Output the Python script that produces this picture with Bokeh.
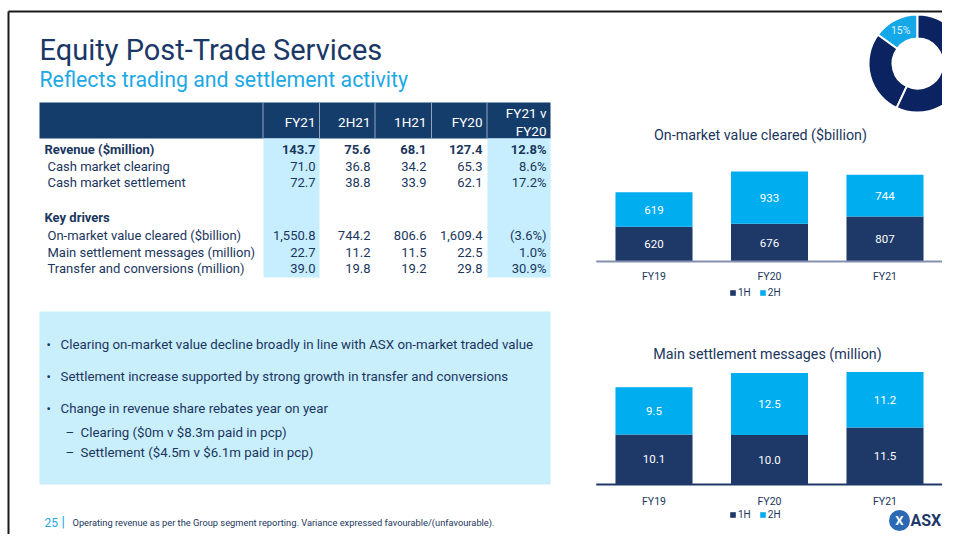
import math
from bokeh.plotting import figure
from bokeh.models import Range1d, Legend, LegendItem, ColumnDataSource
from bokeh.core.properties import value
from bokeh.embed import file_html
from bokeh.resources import INLINE

# ---------------- data ----------------
title_text = "Equity Post-Trade Services"
subtitle_text = "Reflects trading and settlement activity"
table_columns = ["FY21", "2H21", "1H21", "FY20"]
variance_header = ["FY21 v", "FY20"]
row_labels = ["Revenue ($million)", "Cash market clearing", "Cash market settlement",
              "Key drivers", "On-market value cleared ($billion)",
              "Main settlement messages (million)", "Transfer and conversions (million)"]
fy21_vals = [143.7, 71.0, 72.7, None, 1550.8, 22.7, 39.0]
h2_21_vals = [75.6, 36.8, 38.8, None, 744.2, 11.2, 19.8]
h1_21_vals = [68.1, 34.2, 33.9, None, 806.6, 11.5, 19.2]
fy20_vals = [127.4, 65.3, 62.1, None, 1609.4, 22.5, 29.8]
variance_pct = [12.8, 8.6, 17.2, None, -3.6, 1.0, 30.9]
bullet_points = ["Clearing on-market value decline broadly in line with ASX on-market traded value",
                 "Settlement increase supported by strong growth in transfer and conversions",
                 "Change in revenue share rebates year on year"]
sub_points = ["Clearing ($0m v $8.3m paid in pcp)",
              "Settlement ($4.5m v $6.1m paid in pcp)"]
footnote_page = "25"
footnote_text = "Operating revenue as per the Group segment reporting. Variance expressed favourable/(unfavourable)."

chart1_title = "On-market value cleared ($billion)"
chart2_title = "Main settlement messages (million)"
years = ["FY19", "FY20", "FY21"]
series_names = ["1H", "2H"]
cleared_1h = [620, 676, 807]
cleared_2h = [619, 933, 744]
messages_1h = [10.1, 10.0, 11.5]
messages_2h = [9.5, 12.5, 11.2]
donut_share = [15, 28, 29, 28]

# ---------------- styles ----------------
FONT = "Roboto"
NAVY = "#1B365D"
TITLE_COL = "#1A3866"
SKY = "#1CA8E4"
HEAD = "#153D6B"
BAND = "#C6EEFE"
BOX = "#C9EEFC"
BAR1 = "#1E3868"
BAR2 = "#00ADEF"
DONUT_NAVY = "#0B2360"
DONUT_SKY = "#15A8E8"
F = value(FONT)
TABLE_FS = "13px"

# canvas: data units == picture pixels
X0, X1, Y0, Y1 = 1, 943, 1, 535


def fmt(v):
    return "" if v is None else "{:,.1f}".format(v)


def fmt_pct(v):
    if v is None:
        return ""
    return "({:.1f}%)".format(-v) if v < 0 else "{:.1f}%".format(v)


p = figure(width=942, height=534, x_range=Range1d(X0, X1), y_range=Range1d(Y1, Y0),
           output_backend="svg", toolbar_location=None, min_border=0,
           x_axis_location=None, y_axis_location=None)
p.grid.visible = False
p.outline_line_color = None
p.background_fill_color = "white"

# slide border
p.segment(x0=[9, 9], y0=[12, 12], x1=[X1, 9], y1=[12, Y1], line_color="#1a1a1a", line_width=2)

# titles
p.text(x=[40], y=[50], text=[title_text], text_font=F, text_font_size="29px",
       text_color=TITLE_COL, text_baseline="middle")
p.text(x=[40], y=[80], text=[subtitle_text], text_font=F, text_font_size="21.3px",
       text_color=SKY, text_baseline="middle")

# ---------------- table ----------------
p.quad(left=[40], right=[551], top=[103], bottom=[139], fill_color=HEAD, line_color=None)
p.quad(left=[264, 488], right=[320, 551], top=[139, 139], bottom=[278, 278],
       fill_color=BAND, line_color=None)
seps = [263.5, 320, 375.5, 432, 487.5]
p.segment(x0=seps, y0=[103] * 5, x1=seps, y1=[139] * 5, line_color="#8FA6C2", line_width=1)

col_right = [316, 371, 427, 483, 547]
p.text(x=col_right[:4], y=[122] * 4, text=table_columns, text_font=F,
       text_font_size="13.5px", text_color="white", text_align="right", text_baseline="middle")
p.text(x=[col_right[4]] * 2, y=[113, 131], text=variance_header, text_font=F,
       text_font_size="13.5px", text_color="white", text_align="right", text_baseline="middle")

row_y = [150, 167, 183, 218, 236, 253, 269]
bold_rows = [0, 3]
for i, lab in enumerate(row_labels):
    p.text(x=[45 if i in bold_rows else 48], y=[row_y[i]], text=[lab], text_font=F,
           text_font_size=TABLE_FS, text_color=NAVY, text_baseline="middle",
           text_font_style="bold" if i in bold_rows else "normal")

columns_vals = [[fmt(v) for v in fy21_vals], [fmt(v) for v in h2_21_vals],
                [fmt(v) for v in h1_21_vals], [fmt(v) for v in fy20_vals],
                [fmt_pct(v) for v in variance_pct]]
for c, vals in enumerate(columns_vals):
    p.text(x=[col_right[c]], y=[row_y[0]], text=[vals[0]], text_font=F,
           text_font_size=TABLE_FS, text_color=NAVY, text_align="right", text_baseline="middle",
           text_font_style="bold")
    p.text(x=[col_right[c]] * (len(vals) - 1), y=row_y[1:], text=vals[1:], text_font=F,
           text_font_size=TABLE_FS, text_color=NAVY, text_align="right", text_baseline="middle")

# ---------------- commentary box ----------------
p.quad(left=[40], right=[551], top=[312], bottom=[485], fill_color=BOX, line_color=None)
bullet_y = [345, 377, 409]
p.text(x=[47] * 3, y=bullet_y, text=["\u2022"] * 3, text_font=F, text_font_size="13px",
       text_color=NAVY, text_baseline="middle")
p.text(x=[61] * 3, y=bullet_y, text=bullet_points, text_font=F, text_font_size="13.3px",
       text_color=NAVY, text_baseline="middle")
sub_y = [433, 453]
p.text(x=[66] * 2, y=sub_y, text=["\u2013"] * 2, text_font=F, text_font_size="13.3px",
       text_color=NAVY, text_baseline="middle")
p.text(x=[81] * 2, y=sub_y, text=sub_points, text_font=F, text_font_size="13.3px",
       text_color=NAVY, text_baseline="middle")

# ---------------- footer ----------------
p.text(x=[45], y=[523], text=[footnote_page], text_font=F, text_font_size="12px",
       text_color=SKY, text_baseline="middle")
p.text(x=[62], y=[522], text=["|"], text_font=F, text_font_size="14px",
       text_color=SKY, text_baseline="middle")
p.text(x=[73], y=[523], text=[footnote_text], text_font=F, text_font_size="9.3px",
       text_color=NAVY, text_baseline="middle")

# ---------------- donut ----------------
total = float(sum(donut_share))
starts, ends, acc = [], [], 0.0
for s in donut_share:
    starts.append(math.pi / 2 + 2 * math.pi * acc / total)
    acc += s
    ends.append(math.pi / 2 + 2 * math.pi * acc / total)
p.annular_wedge(x=918, y=64, inner_radius=25, outer_radius=49,
                start_angle=starts, end_angle=ends, direction="anticlock",
                fill_color=[DONUT_SKY] + [DONUT_NAVY] * (len(donut_share) - 1),
                line_color="white", line_width=2)
mid = (starts[0] + ends[0]) / 2
p.text(x=[918 + 37 * math.cos(mid)], y=[64 - 37 * math.sin(mid)],
       text=["{}%".format(donut_share[0])], text_font=F, text_font_size="10.5px",
       text_color="#DDF3FF", text_align="center", text_baseline="middle")


# ---------------- stacked bar charts ----------------
def bar_chart(name, title, title_xy, h1, h2, base_px, px_per_unit, label_fmt, axis_col,
              label_off, legend_y):
    # category index axis: centre of first bar at 654.5 px, 115.5 px per category
    cx0, step = 654.5, 115.5
    p.extra_x_ranges[name + "x"] = Range1d((X0 - cx0) / step, (X1 - cx0) / step)
    p.extra_y_ranges[name + "y"] = Range1d((base_px - Y1) / px_per_unit,
                                           (base_px - Y0) / px_per_unit)
    xr, yr = name + "x", name + "y"
    idx = list(range(len(years)))
    s = ColumnDataSource(dict(i=idx, h1=h1, h2=h2,
                              m1=[a / 2 for a in h1],
                              m2=[a + b / 2 for a, b in zip(h1, h2)],
                              t1=[label_fmt(a) for a in h1],
                              t2=[label_fmt(b) for b in h2],
                              zero=[0] * len(years), year=years))
    rs = p.vbar_stack(["h1", "h2"], x="i", width=0.667, color=[BAR1, BAR2], line_color=None,
                      source=s, x_range_name=xr, y_range_name=yr)
    p.text(x="i", y="m1", text="t1", source=s, text_font=F, text_font_size="11.5px",
           text_color="white", text_align="center", text_baseline="middle",
           x_range_name=xr, y_range_name=yr)
    p.text(x="i", y="m2", text="t2", source=s, text_font=F, text_font_size="11.5px",
           text_color="white", text_align="center", text_baseline="middle",
           x_range_name=xr, y_range_name=yr)
    # baseline (value 0) across the category span
    p.segment(x0=[-0.5], y0=[0], x1=[len(years) - 0.5], y1=[0], line_color=axis_col,
              line_width=2, x_range_name=xr, y_range_name=yr)
    # category labels
    p.text(x="i", y="zero", text="year", source=s, text_font=F, text_font_size="10.5px",
           text_color=NAVY, text_align="center", text_baseline="middle", y_offset=label_off,
           x_range_name=xr, y_range_name=yr)
    # chart title
    p.text(x=[title_xy[0]], y=[title_xy[1]], text=[title], text_font=F, text_font_size="14.3px",
           text_color=NAVY, text_align="center", text_baseline="middle")
    leg = Legend(items=[LegendItem(label=series_names[0], renderers=[rs[0]]),
                        LegendItem(label=series_names[1], renderers=[rs[1]])],
                 orientation="horizontal", location=(729, Y1 - legend_y - 6),
                 margin=0, padding=2, spacing=8, label_standoff=2,
                 glyph_width=7, glyph_height=7, label_height=8, label_width=10,
                 label_text_font=FONT, label_text_font_size="10px", label_text_color=NAVY,
                 border_line_color=None, background_fill_alpha=0)
    p.add_layout(leg)


bar_chart("c1", chart1_title, (761, 135), cleared_1h, cleared_2h, 262, 0.0559,
          lambda v: "{:d}".format(v), "#8390B0", 15, 293)
bar_chart("c2", chart2_title, (768, 354), messages_1h, messages_2h, 485, 4.96,
          lambda v: "{:.1f}".format(v), BAR1, 17, 515)

# ASX logo
p.scatter(x=[900], y=[521], marker="circle", size=21, fill_color="#2C69B3", line_color=None)
p.text(x=[900], y=[521], text=["X"], text_font=F, text_font_style="bold", text_font_size="13px",
       text_color="white", text_align="center", text_baseline="middle")
p.text(x=[911], y=[521], text=["ASX"], text_font=F, text_font_style="bold",
       text_font_size="16px", text_color="#1E3868", text_baseline="middle")

open("out.html", "w").write(file_html(p, INLINE))
